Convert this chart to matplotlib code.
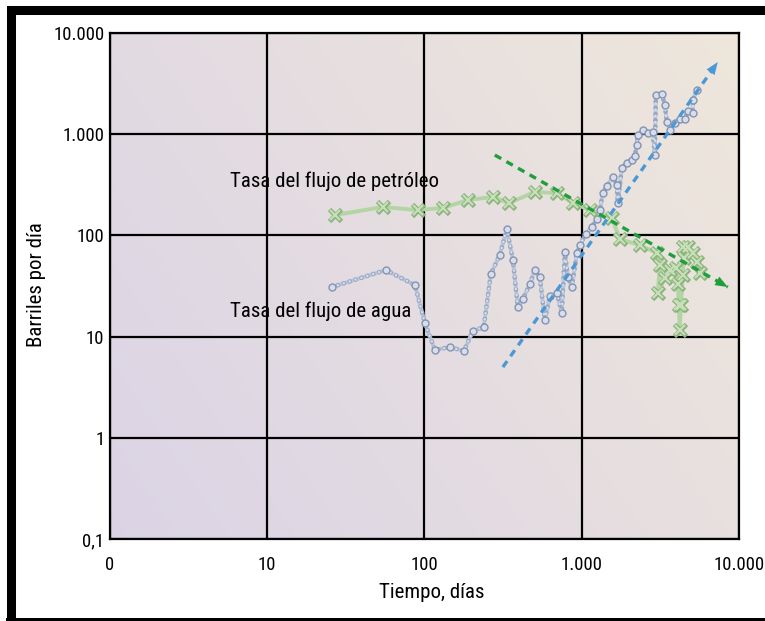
import numpy as np
import matplotlib
matplotlib.use("Agg")
import matplotlib.pyplot as plt
from matplotlib import font_manager
from matplotlib.patches import Rectangle
from matplotlib.ticker import NullLocator

# buscar una letra estrecha si hay alguna instalada
nombres = {f.name: f for f in font_manager.fontManager.ttflist}
fuente, estira, angosta = 'DejaVu Sans', 'normal', False
for n in ['Liberation Sans Narrow', 'Roboto Condensed', 'Noto Sans Condensed',
          'Open Sans Condensed', 'DejaVu Sans Condensed']:
    if n in nombres:
        fuente, angosta = n, True
        break
if not angosta:
    for f in font_manager.fontManager.ttflist:
        if f.name == 'DejaVu Sans' and 'condensed' in str(f.stretch):
            estira, angosta = 'condensed', True
            break
plt.rcParams['font.family'] = [fuente, 'DejaVu Sans']
plt.rcParams['font.stretch'] = estira
k = 1.0 if angosta else 0.8

# tasa del flujo de agua (barriles por dia vs dias)
dias_agua = [25.8, 56.8, 86.9, 100.6, 116.5, 145, 178, 203, 238, 264, 301, 334,
             365, 392, 422, 468, 503, 541, 583, 627, 694, 747, 781, 816, 865, 931,
             972, 1062, 1159, 1247, 1304, 1362, 1444, 1577, 1672, 1696, 1798, 1935,
             2082, 2175, 2240, 2273, 2446, 2632, 2831, 2915, 2959, 3230, 3376, 3476,
             3633, 3907, 4204, 4523, 4726, 5086, 5086, 5392]
agua = [30.9, 45.5, 32.3, 13.6, 7.37, 7.89, 7.21, 11.4, 12.4, 41.5, 64.0, 115.7,
        57.1, 19.6, 23.5, 33.1, 45.5, 38.8, 14.6, 25.2, 27.0, 17.1, 68.5, 38.8,
        30.9, 67.0, 80.4, 103.2, 121.1, 145.3, 178.2, 262.4, 307.7, 377.6, 314.8,
        209.0, 463.4, 519.3, 556.2, 609.0, 782.1, 981.9, 1100, 1028, 1051, 623,
        2440, 2496, 1943, 1320, 1100, 1290, 1413, 1413, 1695, 1620, 2177, 2734]

# tasa del flujo de petroleo
dias_petroleo = [26.9, 54.4, 90.8, 131, 189, 272, 344, 503, 695, 878, 1126, 1554,
                 1747, 2341, 3002, 3137, 3047, 3376, 3633, 3965, 4083, 4143, 4204,
                 4266, 4393, 4458, 4393, 4726, 5086, 5392, 5633]
petroleo = [159, 191, 178, 187, 224, 240, 209, 269, 262, 209, 178, 149,
            92, 80, 67, 51, 27, 38, 46, 48, 33, 20.5, 11.6,
            20.5, 40.6, 59.8, 76.8, 77, 67, 55, 42.5]

# tendencias
tend_petroleo_x = [280, 8490]
tend_petroleo_y = [623, 30.9]
tend_agua_x = [315, 7330]
tend_agua_y = [5.0, 5170]

xticks = [1, 10, 100, 1000, 10000]
xlabels = ['0', '10', '100', '1.000', '10.000']
yticks = [0.1, 1, 10, 100, 1000, 10000]
ylabels = ['0,1', '1', '10', '100', '1.000', '10.000']

fig = plt.figure(figsize=(7.65, 6.21), dpi=100)
ax = fig.add_axes([0.1438, 0.132, 0.8222, 0.8148])
ax.set_xscale('log')
ax.set_yscale('log')
ax.set_xlim(1, 1e4)
ax.set_ylim(0.1, 1e4)

# fondo degradado
gx, gy = np.meshgrid(np.linspace(0, 1, 200), np.linspace(0, 1, 200))
t = (0.65 * gx + 0.35 * gy)[..., None]
c0 = np.array([0.86, 0.83, 0.90])
c1 = np.array([0.935, 0.905, 0.86])
ax.imshow(c0 + (c1 - c0) * t, extent=[0, 1, 0, 1], transform=ax.transAxes,
          origin='lower', aspect='auto', zorder=0)

ax.set_xticks(xticks, xlabels)
ax.set_yticks(yticks, ylabels)
ax.xaxis.set_minor_locator(NullLocator())
ax.yaxis.set_minor_locator(NullLocator())
ax.tick_params(length=0, labelsize=13.5 * k)
ax.tick_params(axis='x', pad=12)
ax.tick_params(axis='y', pad=4)
ax.grid(True, color='black', lw=1.6)
ax.set_axisbelow(True)
for s in ax.spines.values():
    s.set_linewidth(1.6)

# agua: linea con cuentas
ax.plot(dias_agua, agua, color='#bcc7dc', lw=2.8, zorder=3)
ax.plot(dias_agua, agua, color='#9aa7c2', lw=3.4, ls=(0, (0.01, 1.3)),
        dash_capstyle='round', zorder=3.1)
ax.plot(dias_agua, agua, color='#d6deed', lw=1.9, ls=(0, (0.01, 2.33)),
        dash_capstyle='round', zorder=3.2)
ax.plot(dias_agua, agua, ls='none', marker='o', ms=5, mfc='#d6deed',
        mec='#8593b0', mew=1.0, zorder=4)

# petroleo: linea con cruces
ax.plot(dias_petroleo, petroleo, color='#b3d5a3', lw=2.8, zorder=3)
ax.plot(dias_petroleo, petroleo, ls='none', marker='x', ms=8.5, mec='#8cb47e',
        mew=3.4, zorder=4)
ax.plot(dias_petroleo, petroleo, ls='none', marker='x', ms=7.8, mec='#c8e0ba',
        mew=1.5, zorder=4.1)


def tendencia(xs, ys, color):
    ax.plot(xs, ys, color=color, lw=2.4, ls=(0, (2.2, 1.8)), zorder=5)
    lx, ly = np.log10(xs), np.log10(ys)
    xb = 10 ** (lx[0] + 0.93 * (lx[1] - lx[0]))
    yb = 10 ** (ly[0] + 0.93 * (ly[1] - ly[0]))
    ax.annotate('', xy=(xs[1], ys[1]), xytext=(xb, yb), zorder=6,
                arrowprops=dict(arrowstyle='-|>,head_length=0.9,head_width=0.35',
                                color=color, lw=0, shrinkA=0, shrinkB=0))


tendencia(tend_petroleo_x, tend_petroleo_y, '#1f9e3c')
tendencia(tend_agua_x, tend_agua_y, '#4a98d6')

ax.text(5.8, 345, 'Tasa del flujo de petróleo', fontsize=15 * k, va='center', zorder=2)
ax.text(5.8, 17.9, 'Tasa del flujo de agua', fontsize=15 * k, va='center', zorder=2)

fig.text(432 / 765, 1 - 593 / 621, 'Tiempo, días', fontsize=15 * k, ha='center', va='center')
fig.text(37 / 765, 1 - 285 / 621, 'Barriles por día', fontsize=15 * k, ha='center',
         va='center', rotation=90)

# marco negro
fig.add_artist(Rectangle((10.5 / 765, -2 / 621), 2, 1 - 10 / 621 + 2 / 621,
                         transform=fig.transFigure, fill=False, ec='black', lw=6.5))
fig.add_artist(Rectangle((6 / 765, 0), 1, 3 / 621, transform=fig.transFigure,
                         fc='black', ec='none'))

fig.savefig('out.png', dpi=100)
